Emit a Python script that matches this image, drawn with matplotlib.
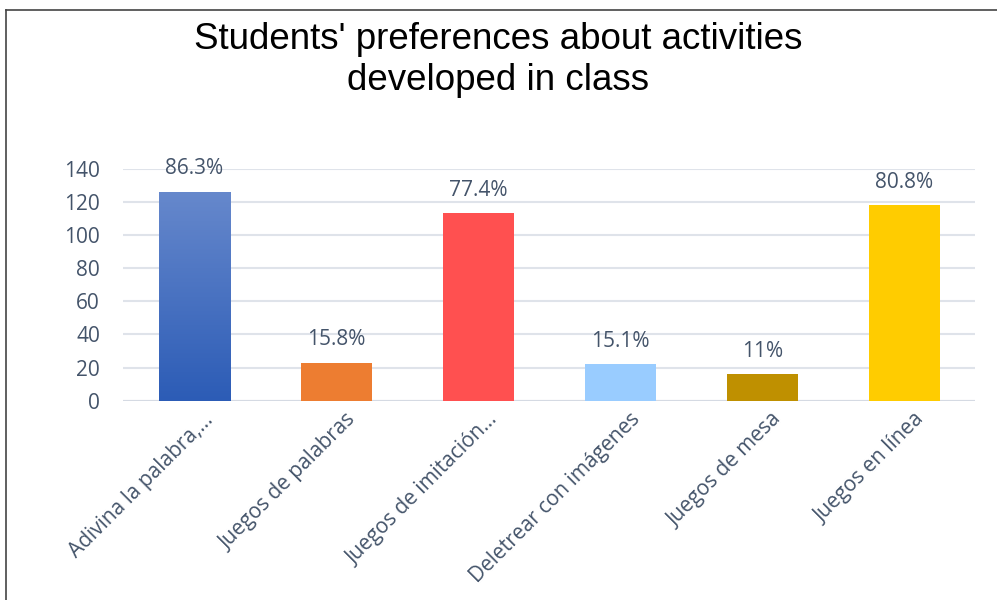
import numpy as np
import matplotlib.pyplot as plt
import matplotlib.transforms as mtransforms
from matplotlib.colors import LinearSegmentedColormap
from matplotlib.patches import Rectangle

categories = ["Adivina la palabra,…", "Juegos de palabras", "Juegos de imitación…",
              "Deletrear con imágenes", "Juegos de mesa", "Juegos en línea"]
counts = [126, 23, 113, 22, 16, 118]
pct_labels = ["86.3%", "15.8%", "77.4%", "15.1%", "11%", "80.8%"]
colors = ["#3a6cc4", "#ED7D31", "#FF5050", "#99CCFF", "#BF9000", "#FFCC00"]
yticks = [0, 20, 40, 60, 80, 100, 120, 140]

text_col = "#44546A"
lab_font = ["Open Sans", "DejaVu Sans"]

fig = plt.figure(figsize=(9.97, 6.0), dpi=100)
ax = fig.add_axes([0.1234, 0.332, 0.855, 0.387])

x = np.arange(len(categories))
bars = ax.bar(x, counts, width=0.5, color=colors, zorder=3)

# vertical gradient on the first bar
grad = LinearSegmentedColormap.from_list("blue_grad", ["#2c5cb6", "#6688cc"])
b0 = bars[0]
b0.set_facecolor("none")
img = ax.imshow(np.linspace(0, 1, 256).reshape(-1, 1), cmap=grad, origin="lower",
                aspect="auto", zorder=3,
                extent=[b0.get_x(), b0.get_x() + b0.get_width(), 0, b0.get_height()])
img.set_clip_path(Rectangle((b0.get_x(), 0), b0.get_width(), b0.get_height(),
                            transform=ax.transData))

for xi, c, lab in zip(x, counts, pct_labels):
    ax.annotate(lab, (xi, c), xytext=(0, 9), textcoords="offset points",
                ha="center", va="bottom", fontsize=15, color=text_col, family=lab_font)

ax.set_xlim(-0.5, len(categories) - 0.5)
ax.set_ylim(0, 140)
ax.set_yticks(yticks)
ax.set_yticklabels([str(t) for t in yticks], fontsize=15, color=text_col, family=lab_font)
ax.set_xticks(x)
ax.set_xticklabels(categories, rotation=45, ha="right", va="top", rotation_mode="anchor",
                   fontsize=15, color=text_col, family=lab_font)
ax.tick_params(axis="both", length=0)
ax.tick_params(axis="y", pad=16.5)
ax.tick_params(axis="x", pad=6)
# nudge rotated labels so their ends sit just right of each bar centre
shift = mtransforms.ScaledTranslation(6.5 / 72, 0, fig.dpi_scale_trans)
for t in ax.get_xticklabels():
    t.set_transform(t.get_transform() + shift)

ax.yaxis.grid(True, color="#dfe3ea", linewidth=1.5, zorder=0)
ax.set_axisbelow(True)
for s in ax.spines.values():
    s.set_visible(False)
ax.axhline(0, color="#d5dae3", linewidth=1.5, zorder=2)

fig.text(0.5, 0.9, "Students' preferences about activities\ndeveloped in class",
         ha="center", va="center", fontsize=26.5, family="Liberation Sans",
         linespacing=1.25, color="black")

# outer chart frame (partly cut off at right and bottom)
fig.add_artist(plt.Line2D([0.006, 0.006], [0, 0.983], color="#444444", linewidth=1.2,
                          transform=fig.transFigure))
fig.add_artist(plt.Line2D([0.006, 1.0], [0.983, 0.983], color="#444444", linewidth=1.2,
                          transform=fig.transFigure))

fig.savefig("out.png", dpi=100)
